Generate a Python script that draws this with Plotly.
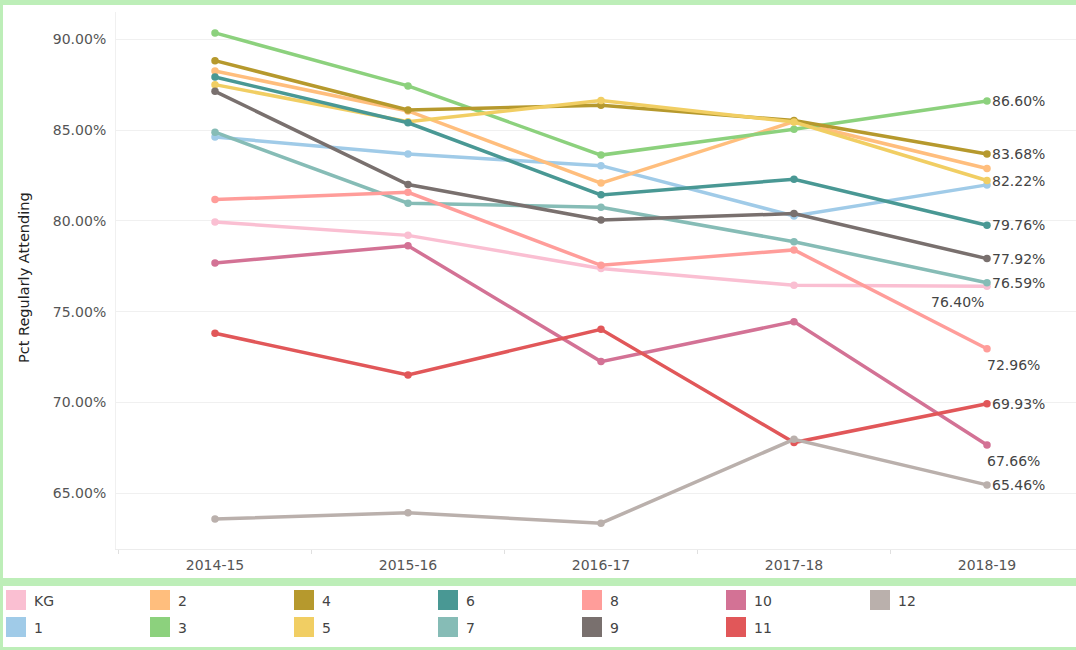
import plotly.graph_objects as go

years = ["2014-15", "2015-16", "2016-17", "2017-18", "2018-19"]
grades = ["KG", "1", "2", "3", "4", "5", "6", "7", "8", "9", "10", "11", "12"]
colors = ["#FABFD2", "#A0CBE8", "#FFBE7D", "#8CD17D", "#B6992D", "#F1CE63", "#499894",
          "#86BCB6", "#FF9D9A", "#79706E", "#D37295", "#E15759", "#BAB0AC"]

kg = [79.94, 79.20, 77.38, 76.45, 76.40]
g1 = [84.62, 83.68, 83.04, 80.27, 81.98]
g2 = [88.25, 86.05, 82.08, 85.46, 82.88]
g3 = [90.35, 87.43, 83.62, 85.04, 86.60]
g4 = [88.82, 86.10, 86.36, 85.52, 83.68]
g5 = [87.50, 85.46, 86.62, 85.44, 82.22]
g6 = [87.92, 85.40, 81.43, 82.29, 79.76]
g7 = [84.88, 80.97, 80.75, 78.85, 76.59]
g8 = [81.17, 81.57, 77.55, 78.40, 72.96]
g9 = [87.13, 82.00, 80.05, 80.40, 77.92]
g10 = [77.68, 78.63, 72.25, 74.45, 67.66]
g11 = [73.81, 71.51, 74.03, 67.79, 69.93]
g12 = [63.58, 63.93, 63.35, 67.97, 65.46]
series = [kg, g1, g2, g3, g4, g5, g6, g7, g8, g9, g10, g11, g12]

y_ticks = [65, 70, 75, 80, 85, 90]
y_title = "Pct Regularly Attending"
# which grades get an end label, and where it sits relative to the last point
label_pos = {"KG": "below-left", "3": "right", "4": "right", "5": "right", "6": "right",
             "7": "right", "8": "below", "9": "right", "10": "below", "11": "right", "12": "right"}

W, H = 1076, 650
L, R, T, B = 116, 0, 12, 101
PW, PH = W - L - R, H - T - B


def px(xp):
    return (xp - L) / PW


def py(yp):
    return (H - B - yp) / PH


fig = go.Figure()
for name, vals, col in zip(grades, series, colors):
    fig.add_trace(go.Scatter(
        x=years, y=vals, mode="lines+markers", name=name,
        line=dict(color=col, width=3.5), marker=dict(color=col, size=7.5),
        showlegend=False, hoverinfo="skip"))

label_font = dict(family="DejaVu Sans, Lato, sans-serif", size=14, color="#444")
annotations = []
for name, vals in zip(grades, series):
    if name not in label_pos:
        continue
    pos = label_pos[name]
    txt = f"{vals[-1]:.2f}%"
    if pos == "right":
        annotations.append(dict(x=years[-1], y=vals[-1], xref="x", yref="y", text=txt,
                                showarrow=False, xanchor="left", yanchor="middle",
                                xshift=3, font=label_font))
    elif pos == "below":
        annotations.append(dict(x=years[-1], y=vals[-1], xref="x", yref="y", text=txt,
                                showarrow=False, xanchor="left", yanchor="middle",
                                xshift=-2, yshift=-16, font=label_font))
    else:
        annotations.append(dict(x=years[-1], y=vals[-1], xref="x", yref="y", text=txt,
                                showarrow=False, xanchor="right", yanchor="middle",
                                xshift=-1, yshift=-16, font=label_font))

# y axis title
annotations.append(dict(x=px(24), y=py(278), xref="paper", yref="paper", text=y_title,
                        textangle=-90, showarrow=False, xanchor="center", yanchor="middle",
                        font=dict(family="DejaVu Sans, Lato, sans-serif", size=14.5, color="#222")))

green = "#BDEEB8"
shapes = [
    # white chart panel and legend panel over the green frame
    dict(type="rect", xref="paper", yref="paper", x0=px(3), x1=px(W), y0=py(578), y1=py(5),
         fillcolor="white", line=dict(width=0), layer="below"),
    dict(type="rect", xref="paper", yref="paper", x0=px(3), x1=px(W), y0=py(647), y1=py(586),
         fillcolor="white", line=dict(width=0), layer="below"),
]

# custom legend: column-major, two rows
legend_font = dict(family="DejaVu Sans, Lato, sans-serif", size=14, color="#444")
for i, (name, col) in enumerate(zip(grades, colors)):
    c, r = i // 2, i % 2
    x0 = 6 + 144 * c
    y0 = 590 + 27 * r
    shapes.append(dict(type="rect", xref="paper", yref="paper",
                       x0=px(x0), x1=px(x0 + 20), y0=py(y0 + 20), y1=py(y0),
                       fillcolor=col, line=dict(width=0)))
    annotations.append(dict(x=px(x0 + 26), y=py(y0 + 11), xref="paper", yref="paper",
                            text=name, showarrow=False, xanchor="left", yanchor="middle",
                            font=legend_font))

tick_font = dict(family="DejaVu Sans, Lato, sans-serif", size=14, color="#555")
fig.update_layout(
    width=W, height=H,
    margin=dict(l=L, r=R, t=T, b=B, pad=0),
    paper_bgcolor=green, plot_bgcolor="white",
    shapes=shapes, annotations=annotations, hovermode=False,
    xaxis=dict(type="category", categoryorder="array", categoryarray=years,
               range=[(L - 215) / 193, (W - R - 215) / 193],
               showgrid=False, zeroline=False, showline=True, linecolor="#ececec",
               ticks="outside", tickson="boundaries", ticklen=4, tickcolor="#e0e0e0",
               tickfont=tick_font, ticklabelstandoff=3),
    yaxis=dict(range=[61.93, 91.50], tickvals=y_ticks,
               ticktext=[f"{v:.2f}%" for v in y_ticks],
               showgrid=True, gridcolor="#f0f0f0", gridwidth=1, zeroline=False,
               showline=True, linecolor="#f0f0f0", ticks="",
               tickfont=tick_font, ticklabelstandoff=6),
)

fig.write_html("out.html")
